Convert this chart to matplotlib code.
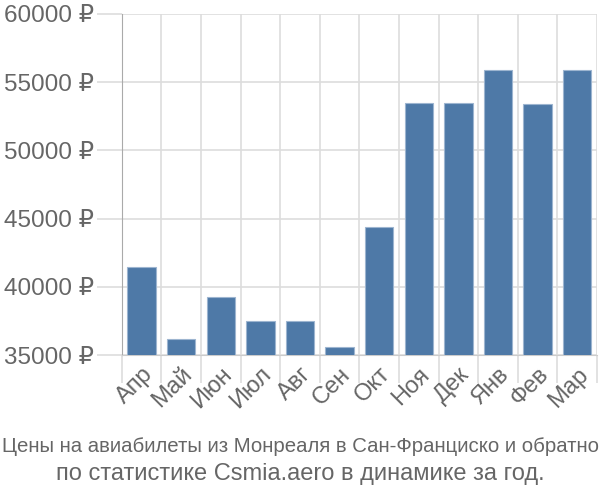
import matplotlib
matplotlib.use("Agg")
import matplotlib.pyplot as plt

months = ["Апр", "Май", "Июн", "Июл", "Авг", "Сен", "Окт", "Ноя", "Дек", "Янв", "Фев", "Мар"]
prices = [41450, 36200, 39250, 37500, 37500, 35590, 44420, 53450, 53450, 55870, 53400, 55870]
y_ticks = [35000, 40000, 45000, 50000, 55000, 60000]

plt.rcParams["font.family"] = ["Liberation Sans", "DejaVu Sans"]

fig = plt.figure(figsize=(6, 5), dpi=100)
ax = fig.add_axes([0.203, 0.29, 0.792, 0.682])

x = list(range(len(months)))
ax.bar(x, prices, width=0.72, color="#4e79a7", edgecolor="#9db5d0", linewidth=0.8, zorder=3)

ax.set_ylim(35000, 60000)
ax.set_xlim(-0.5, len(months) - 0.5)
ax.set_yticks(y_ticks)
ax.set_yticklabels([f"{v} ₽" for v in y_ticks])

# grid lines sit between the bars
bounds = [i - 0.5 for i in range(len(months) + 1)]
ax.set_xticks(bounds, minor=True)
ax.set_xticks(x)
ax.set_xticklabels(months, rotation=45, ha="right", rotation_mode="anchor")
ax.grid(True, which="minor", axis="x", color="#dddddd", linewidth=1.2, zorder=0)
ax.grid(True, which="major", axis="y", color="#dddddd", linewidth=1.2, zorder=0)

ax.tick_params(axis="x", which="major", length=0, pad=6, labelsize=17, labelcolor="#666666")
ax.tick_params(axis="x", which="minor", length=20, color="#dddddd", width=1.2)
ax.tick_params(axis="y", length=18, color="#dddddd", width=1.2, labelsize=17.5, labelcolor="#666666", pad=2)

for s in ["top", "right"]:
    ax.spines[s].set_visible(False)
ax.spines["left"].set_color("#aaaaaa")
ax.spines["left"].set_bounds(35000, 60000)
ax.spines["bottom"].set_color("#cccccc")

fig.text(0.5, 0.106, "Цены на авиабилеты из Монреаля в Сан-Франциско и обратно",
         ha="center", va="center", fontsize=14.7, color="#666666")
fig.text(0.5, 0.052, "по статистике Csmia.aero в динамике за год.",
         ha="center", va="center", fontsize=17, color="#666666")

fig.savefig("out.png", dpi=100)
